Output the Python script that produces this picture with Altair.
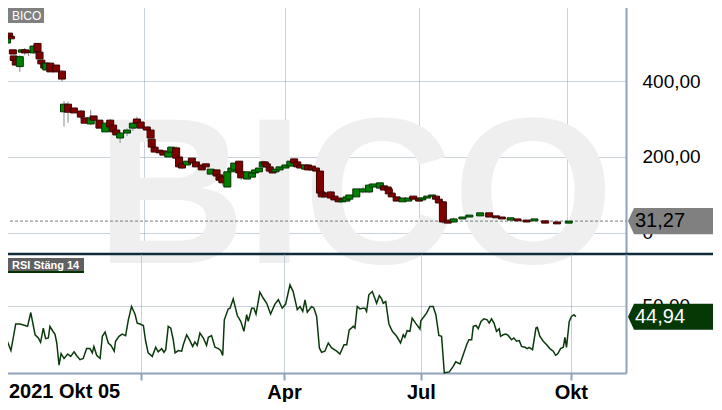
import json
import altair as alt
import pandas as pd

# ---------------- data ----------------
symbol = "BICO"
rsi_title = "RSI Stäng 14"
start_label = "2021 Okt 05"

# trading-day index of each candle
candle_day = [
    0.9, 1.8, 2.6, 3.5, 3.9, 4.8, 6.6, 7.5, 8.8, 10.5,
    12.7, 14.5, 15.4, 16.2, 17.5, 18.4, 20.2, 22.8, 25.4, 26.3,
    28.1, 30.7, 33.8, 35.5, 38.2, 39.5, 42.1, 44.7, 46.9, 48.2,
    49.6, 51.3, 54.4, 57.0, 58.8, 60.5, 63.2, 64.9, 65.4, 66.7,
    68.9, 70.6, 72.8, 74.1, 76.3, 77.6, 78.9, 81.1, 83.3, 85.1,
    87.7, 89.5, 91.7, 94.3, 95.6, 96.9, 99.1, 100.9, 102.2, 104.4,
    105.3, 107.9, 110.1, 111.4, 113.2, 114.9, 115.8, 116.7, 118.0, 119.3,
    120.6, 122.4, 125.0, 127.2, 128.9, 130.3, 131.6, 133.8, 135.1, 136.8,
    138.6, 140.4, 141.2, 143.0, 145.2, 146.9, 148.7, 150.4, 152.2, 153.5,
    156.6, 159.6, 162.3, 164.0, 167.1, 168.9, 170.6, 171.1, 172.4, 174.6,
    177.2, 179.8, 182.0, 184.6, 186.0, 188.2, 190.4, 192.1, 193.4, 195.2,
    197.4, 200.0, 203.9, 207.0, 211.8, 215.8, 218.9, 221.5, 225.4, 228.5,
    232.5, 236.0, 240.8, 246.1, 251.3,
]
candle_open = [
    500, 526, 518, 482, 466, 455, 438, 476, 482, 480,
    474, 499, 476, 455, 447, 429, 447, 442, 426, 319,
    339, 329, 321, 303, 287, 308, 297, 266, 297, 284,
    271, 250, 263, 276, 300, 292, 279, 271, 247, 226,
    218, 216, 200, 213, 224, 200, 182, 179, 197, 187,
    179, 182, 155, 166, 153, 148, 121, 161, 166, 189,
    161, 142, 147, 158, 161, 174, 187, 182, 174, 166,
    161, 166, 171, 176, 195, 187, 179, 168, 179, 176,
    171, 163, 108, 105, 108, 97, 92, 82, 84, 89,
    95, 108, 108, 121, 118, 124, 121, 116, 105, 95,
    82, 84, 97, 92, 87, 92, 97, 97, 89, 82,
    34, 29, 37, 42, 45, 53, 45, 42, 34, 37,
    34, 32, 32, 29, 26,
]
candle_close = [
    513, 516, 511, 471, 454, 442, 464, 482, 474, 475,
    492, 477, 458, 445, 434, 447, 424, 424, 405, 339,
    318, 316, 305, 289, 303, 297, 276, 289, 279, 266,
    258, 263, 271, 289, 289, 276, 271, 250, 226, 213,
    211, 205, 213, 226, 197, 174, 171, 189, 184, 174,
    166, 174, 168, 150, 139, 132, 161, 171, 184, 158,
    145, 161, 158, 166, 171, 187, 179, 174, 163, 158,
    168, 174, 179, 189, 184, 174, 171, 179, 166, 166,
    163, 105, 95, 95, 92, 87, 82, 87, 95, 100,
    116, 116, 126, 129, 132, 113, 113, 103, 95, 84,
    92, 92, 89, 84, 92, 97, 100, 89, 79, 29,
    26, 37, 42, 47, 53, 42, 40, 37, 40, 32,
    29, 37, 26, 24, 31.27,
]

# visible wicks (high / low)
wick_day = [6.6, 8.8, 10.5, 12.7, 25.4, 26.3, 28.1, 33.8, 38.2, 46.9, 51.3, 54.4, 57.0,
            58.8, 76.3, 78.9, 96.9, 105.3, 114.9, 141.2, 145.2, 159.6, 162.3, 170.6, 195.2, 200.0]
wick_high = [468, 487, 484, 495, 428, 347, 345, 324, 324, 300, 266, 275, 292,
             306, 228, 184, 150, 163, 190, 122, 111, 122, 129, 124, 84, 40]
wick_low = [424, 468, 466, 471, 398, 280, 290, 300, 284, 274, 237, 255, 268,
            287, 190, 168, 125, 139, 170, 92, 86, 104, 104, 108, 24, 27]

rsi_day = [
    0.0, 1.8, 3.2, 4.8, 6.9, 8.8, 11.0, 12.1, 13.5, 15.4,
    16.8, 17.8, 19.0, 20.0, 21.2, 21.9, 23.4, 24.1, 24.9, 25.9,
    26.8, 28.1, 29.7, 31.0, 32.5, 33.6, 35.1, 36.5, 38.0, 39.5,
    40.5, 41.2, 42.4, 43.9, 44.9, 46.1, 47.5, 48.7, 50.1, 50.7,
    52.2, 53.6, 55.1, 56.3, 57.7, 59.2, 60.2, 61.4, 62.9, 63.9,
    65.0, 66.8, 68.3, 69.4, 70.9, 71.9, 72.7, 73.8, 74.9, 76.0,
    76.8, 78.2, 79.7, 80.4, 81.9, 83.3, 84.5, 85.5, 86.5, 87.7,
    89.2, 90.6, 91.4, 92.8, 94.3, 95.8, 96.8, 97.7, 98.4, 100.1,
    100.9, 102.3, 104.1, 105.6, 107.0, 108.2, 108.9, 110.4, 111.4, 112.3,
    114.0, 115.5, 117.0, 118.7, 120.6, 122.1, 123.8, 125.3, 127.2, 128.6,
    130.4, 131.6, 132.8, 133.8, 134.8, 136.7, 137.7, 138.9, 140.1, 141.1,
    142.5, 144.0, 145.5, 147.7, 149.1, 150.9, 152.1, 153.2, 155.0, 155.7,
    156.7, 157.9, 159.1, 160.1, 160.8, 161.8, 163.3, 164.0, 165.2, 166.4,
    167.4, 168.1, 169.2, 170.6, 172.1, 174.0, 175.7, 176.9, 177.6, 178.6,
    179.8, 180.8, 182.3, 184.2, 184.6, 185.7, 187.1, 188.6, 190.0, 191.2,
    192.5, 193.7, 194.9, 197.1, 198.8, 199.9, 201.8, 203.2, 204.7, 205.7,
    206.9, 207.6, 208.8, 209.8, 211.0, 212.3, 213.7, 214.6, 215.6, 216.7,
    217.8, 219.0, 219.6, 220.7, 221.9, 222.9, 224.4, 225.4, 226.6, 227.8,
    228.8, 230.3, 231.3, 232.1, 233.6, 235.1, 235.7, 236.8, 238.3, 239.8,
    241.2, 242.7, 243.7, 244.6, 245.9, 247.1, 247.8, 248.5, 249.7,
    250.7, 251.8, 252.6,
]
rsi_value = [
    44.3, 42.0, 33.6, 29.3, 41.6, 41.6, 40.9, 40.5, 46.9, 36.6,
    35.1, 33.1, 39.7, 34.8, 35.1, 40.5, 37.9, 36.9, 32.8, 22.5,
    27.9, 25.6, 27.7, 26.6, 28.7, 27.0, 25.1, 25.6, 30.2, 30.2,
    28.2, 31.2, 27.1, 25.6, 35.9, 37.9, 32.8, 31.7, 29.0, 33.6,
    35.9, 36.9, 36.2, 43.5, 49.7, 46.2, 42.0, 41.6, 40.9, 33.6,
    28.2, 26.6, 30.8, 28.7, 30.2, 28.5, 29.7, 40.5, 39.7, 34.3,
    28.2, 29.3, 29.0, 32.0, 36.6, 33.9, 31.2, 33.3, 31.7, 37.4,
    35.1, 31.7, 35.4, 36.2, 30.8, 30.2, 29.3, 27.0, 43.5, 48.5,
    48.9, 53.2, 45.5, 42.8, 38.2, 45.9, 42.8, 48.9, 48.9, 46.2,
    56.3, 53.5, 51.2, 46.2, 50.8, 52.8, 48.9, 50.8, 59.7, 56.6,
    48.2, 49.7, 47.4, 52.8, 47.1, 49.7, 48.9, 45.1, 30.5, 28.5,
    29.0, 32.8, 30.5, 29.0, 27.7, 32.0, 32.0, 38.9, 40.5, 39.7,
    49.7, 48.6, 48.9, 48.9, 47.4, 55.1, 56.6, 54.7, 51.2, 54.7,
    53.2, 51.2, 52.0, 41.6, 38.2, 35.9, 32.8, 36.6, 35.4, 38.5,
    38.2, 44.3, 42.0, 39.3, 43.1, 44.6, 46.6, 49.7, 49.7, 45.9,
    36.3, 35.9, 19.0, 19.4, 22.0, 24.1, 23.1, 27.4, 32.0, 34.3,
    34.3, 40.5, 40.9, 39.4, 42.8, 44.0, 43.5, 42.0, 44.0, 42.0,
    38.2, 39.4, 35.9, 36.6, 36.9, 36.3, 34.3, 35.1, 33.6, 33.9,
    31.2, 30.8, 30.2, 30.8, 29.7, 39.7, 40.0, 35.9, 33.6, 32.0,
    30.2, 29.0, 27.1, 27.7, 30.2, 30.8, 35.4, 30.8, 42.8,
    45.1, 45.9, 44.94,
]

last_close = 31.27
last_rsi = 44.94

month_tick_days = [61.8, 124.6, 184.6, 250.4]
month_tick_labels = ["", "Apr", "Jul", "Okt"]
price_ticks = [0, 200, 400, 600]
price_tick_labels = ["0", "200,00", "400,00", ""]
rsi_ticks = [50]
rsi_tick_labels = ["50,00"]

# ---------------- styling ----------------
FONT = "Liberation Sans"
GRID = "#93a3b8"
BORDER = "#8fa3bd"
UP_FILL, DOWN_FILL = "#008000", "#800000"
UP_LINE, DOWN_LINE = "#003300", "#3a0000"
RSI_GREEN = "#0a3a0c"
TAG_PATH = "M-1,0L-0.872,-0.277L1,-0.277L1,0.277L-0.872,0.277Z"
TAG_SIZE = 94 * 94


def num_label(v):
    return f"{v:.2f}".replace(".", ",")


def label_expr(values, labels):
    return f"{json.dumps(labels)}[indexof({json.dumps(values)}, datum.value)]"


candles = pd.DataFrame({"day": candle_day, "open": candle_open, "close": candle_close})
candles["dir"] = ["up" if c >= o else "down" for o, c in zip(candle_open, candle_close)]
wicks = pd.DataFrame({"day": wick_day, "high": wick_high, "low": wick_low})
rsi = pd.DataFrame({"day": rsi_day, "rsi": rsi_value})
last_df = pd.DataFrame({"price": [last_close], "label": [num_label(last_close)]})
rsi_last_df = pd.DataFrame({"rsi": [last_rsi], "label": [num_label(last_rsi)]})
one = pd.DataFrame({"sym": [symbol], "rsi_t": [rsi_title], "start": [start_label]})

x_scale = alt.Scale(domain=[0, 274.6], nice=False, zero=False)
price_scale = alt.Scale(domain=[-55.3, 613.2], nice=False, zero=False)
rsi_scale = alt.Scale(domain=[18.9, 74.0], nice=False, zero=False)

x_axis_top = alt.Axis(values=month_tick_days, grid=True, gridColor=GRID, gridDash=[1, 1],
                      labels=False, ticks=False, domain=False, title=None)
x_axis_bot = alt.Axis(values=month_tick_days, grid=True, gridColor=GRID, gridDash=[1, 1],
                      labelExpr=label_expr(month_tick_days, month_tick_labels),
                      labelFont=FONT, labelFontSize=20, labelFontWeight="bold", labelColor="#000000",
                      labelPadding=2, labelFlush=False, labelOverlap=False,
                      ticks=True, tickSize=7, tickWidth=2, tickColor=BORDER,
                      domain=True, domainColor=BORDER, domainWidth=2, title=None)
y_axis_top = alt.Axis(orient="right", values=price_ticks,
                      labelExpr=label_expr(price_ticks, price_tick_labels),
                      grid=True, gridColor=GRID, gridDash=[1, 1], ticks=False, tickSize=0,
                      domain=True, domainColor=BORDER, domainWidth=2,
                      labelPadding=16, labelFont=FONT, labelFontSize=19, labelColor="#000000",
                      labelFlush=False, labelOverlap=False, title=None)
y_axis_bot = alt.Axis(orient="right", values=rsi_ticks,
                      labelExpr=label_expr(rsi_ticks, rsi_tick_labels),
                      grid=True, gridColor=GRID, gridDash=[1, 1], ticks=False, tickSize=0,
                      domain=True, domainColor=BORDER, domainWidth=2,
                      labelPadding=16, labelFont=FONT, labelFontSize=19, labelColor="#000000",
                      labelFlush=False, labelOverlap=False, title=None)

X = alt.X("day:Q", scale=x_scale, axis=x_axis_top)

# ---------------- price panel ----------------
watermark = alt.Chart(one).mark_text(
    font=FONT, fontSize=207, fontWeight="bold", color="#efefef", align="center", baseline="alphabetic"
).encode(x=alt.value(355), y=alt.value(263), text="sym:N")

last_rule = alt.Chart(last_df).mark_rule(color="#7a7a7a", strokeDash=[3, 2], strokeWidth=1).encode(
    y=alt.Y("price:Q", scale=price_scale, axis=y_axis_top), x=alt.value(0), x2=alt.value(626))

wick_layer = alt.Chart(wicks).mark_rule(color="#8a8a8a", strokeWidth=1, clip=True).encode(
    x=X, y=alt.Y("high:Q", scale=price_scale, axis=y_axis_top), y2="low:Q")

body_layer = alt.Chart(candles).mark_bar(size=7, strokeWidth=1, clip=True).encode(
    x=X,
    y=alt.Y("open:Q", scale=price_scale, axis=y_axis_top),
    y2="close:Q",
    fill=alt.Fill("dir:N", scale=alt.Scale(domain=["up", "down"], range=[UP_FILL, DOWN_FILL]), legend=None),
    stroke=alt.Stroke("dir:N", scale=alt.Scale(domain=["up", "down"], range=[UP_LINE, DOWN_LINE]), legend=None),
)

separator = alt.Chart(one).mark_rule(color="#0e2c3c", strokeWidth=2.5).encode(
    x=alt.value(0), x2=alt.value(722), y=alt.value(254))

sym_box = alt.Chart(one).mark_rect(color="#808080").encode(
    x=alt.value(8), x2=alt.value(44), y=alt.value(8), y2=alt.value(23))
sym_text = alt.Chart(one).mark_text(font=FONT, fontSize=12, color="#ffffff", align="left",
                                    baseline="alphabetic").encode(
    x=alt.value(12), y=alt.value(20), text="sym:N")

price_tag = alt.Chart(last_df).mark_point(shape=TAG_PATH, size=TAG_SIZE, filled=True, opacity=1,
                                          color="#808080", strokeWidth=0).encode(
    x=alt.value(675), y=alt.Y("price:Q", scale=price_scale, axis=y_axis_top))
price_tag_text = alt.Chart(last_df).mark_text(font=FONT, fontSize=20, color="#000000", align="left",
                                              baseline="middle").encode(
    x=alt.value(635), y=alt.Y("price:Q", scale=price_scale, axis=y_axis_top), text="label:N")

top = alt.layer(watermark, last_rule, wick_layer, body_layer, separator, sym_box, sym_text,
                price_tag, price_tag_text).properties(width=626, height=254)

# ---------------- RSI panel ----------------
rsi_line = alt.Chart(rsi).mark_line(color=RSI_GREEN, strokeWidth=1.5).encode(
    x=alt.X("day:Q", scale=x_scale, axis=x_axis_bot),
    y=alt.Y("rsi:Q", scale=rsi_scale, axis=y_axis_bot))

rsi_tag = alt.Chart(rsi_last_df).mark_point(shape=TAG_PATH, size=TAG_SIZE, filled=True, opacity=1,
                                            color="#053805", strokeWidth=0).encode(
    x=alt.value(675), y=alt.Y("rsi:Q", scale=rsi_scale, axis=y_axis_bot))
rsi_tag_text = alt.Chart(rsi_last_df).mark_text(font=FONT, fontSize=20, color="#ffffff", align="left",
                                                baseline="middle").encode(
    x=alt.value(635), y=alt.Y("rsi:Q", scale=rsi_scale, axis=y_axis_bot), text="label:N")

rsi_box = alt.Chart(one).mark_rect(color="#606060").encode(
    x=alt.value(8), x2=alt.value(84), y=alt.value(4), y2=alt.value(17))
rsi_strip = alt.Chart(one).mark_rect(color="#003300").encode(
    x=alt.value(8), x2=alt.value(84), y=alt.value(17), y2=alt.value(19))
rsi_text = alt.Chart(one).mark_text(font=FONT, fontSize=11, fontWeight="bold", color="#ffffff",
                                    align="left", baseline="alphabetic").encode(
    x=alt.value(12), y=alt.value(15), text="rsi_t:N")

start_text = alt.Chart(one).mark_text(font=FONT, fontSize=20, fontWeight="bold", color="#000000",
                                      align="left", baseline="alphabetic").encode(
    x=alt.value(9), y=alt.value(144), text="start:N")

bottom = alt.layer(rsi_line, rsi_tag, rsi_tag_text, rsi_box, rsi_strip, rsi_text,
                   start_text).properties(width=626, height=119)

chart = (
    alt.vconcat(top, bottom, spacing=0, bounds="flush")
    .resolve_scale(x="independent", y="independent")
    .properties(padding={"left": -11, "top": -12, "right": -11, "bottom": 0}, background="#ffffff")
    .configure_view(stroke=None)
)

chart.save("out.html", embed_options={"renderer": "svg", "actions": False})
